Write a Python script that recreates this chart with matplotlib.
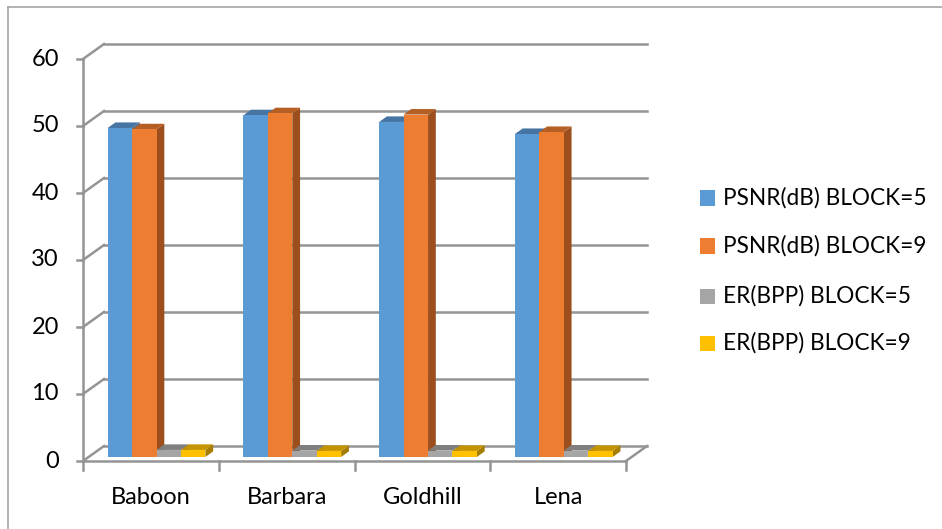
import matplotlib
matplotlib.use("Agg")
import matplotlib.pyplot as plt
from matplotlib.patches import Polygon
import numpy as np

categories = ["Baboon", "Barbara", "Goldhill", "Lena"]
series_names = ["PSNR(dB) BLOCK=5", "PSNR(dB) BLOCK=9", "ER(BPP) BLOCK=5", "ER(BPP) BLOCK=9"]
psnr_b5 = [49.1, 51.0, 50.0, 48.2]
psnr_b9 = [48.9, 51.3, 51.1, 48.5]
er_b5 = [1.05, 0.95, 0.95, 0.95]
er_b9 = [1.05, 0.9, 0.9, 0.9]
y_ticks = [0, 10, 20, 30, 40, 50, 60]

series = [psnr_b5, psnr_b9, er_b5, er_b9]
front_cols = ["#5B9BD5", "#ED7D31", "#A5A5A5", "#FFC000"]
top_cols = ["#4675A3", "#B65F25", "#7F7F7F", "#C49400"]
side_cols = ["#3F6A94", "#9C4F1D", "#6E6E6E", "#A67D00"]

plt.rcParams['font.family'] = ['Lato', 'DejaVu Sans']

W, H = 942, 529
fig = plt.figure(figsize=(W / 100, H / 100), dpi=100)
# front plane: x -0.5..3.5 -> px 83..626 ; y 0..60 -> px 461..59
x0p, x1p, y0p, y1p = 83, 626, 461, 59
ax = fig.add_axes([x0p / W, (H - y0p) / H, (x1p - x0p) / W, (y0p - y1p) / H])
ax.set_xlim(-0.5, 3.5)
ax.set_ylim(0, 60)
ax.axis("off")

# depth offsets in data units
px_x = 4.0 / (x1p - x0p)
px_y = 60.0 / (y0p - y1p)
DX = 21 * px_x
DY = 15 * px_y

grid_c = "#949494"
lw = 1.8
xl, xr = -0.5, 3.5
# back wall gridlines and left wall diagonals
for v in y_ticks:
    ax.plot([xl + DX, xr + DX], [v + DY, v + DY], color=grid_c, lw=lw, clip_on=False, zorder=1)
    ax.plot([xl, xl + DX], [v, v], color=grid_c, lw=0, clip_on=False, zorder=1)
    ax.plot([xl, xl + DX], [v, v + DY], color=grid_c, lw=lw, clip_on=False, zorder=1)
    ax.plot([xl - 6 * px_x, xl], [v, v], color=grid_c, lw=lw, clip_on=False, zorder=1)
    ax.text(xl - 24 * px_x, v, str(v), ha="right", va="center", fontsize=17, color="#000000")
# left axis vertical
ax.plot([xl, xl], [0, 60], color=grid_c, lw=lw, clip_on=False, zorder=1)
# floor
ax.plot([xl, xr], [0, 0], color=grid_c, lw=lw, clip_on=False, zorder=1)
ax.plot([xr, xr + DX], [0, DY], color=grid_c, lw=lw, clip_on=False, zorder=1)
# category ticks
for k in range(len(categories) + 1):
    xt = xl + k
    ax.plot([xt, xt], [0, -9 * px_y], color=grid_c, lw=lw, clip_on=False, zorder=1)
for i, c in enumerate(categories):
    ax.text(i, -36 * px_y, c, ha="center", va="center", fontsize=17, color="#000000")

# bars
bw = 0.18
offs = [-0.27, -0.09, 0.09, 0.27]
f0, f1 = 0.27, 0.64
z = 3
for i in range(len(categories)):
    for s in range(4):
        v = series[s][i]
        xa = i + offs[s] - bw / 2 + f0 * DX
        xb = xa + bw
        yb = f0 * DY
        yt = v + f0 * DY
        ddx = (f1 - f0) * DX
        ddy = (f1 - f0) * DY
        # side
        ax.add_patch(Polygon([[xb, yb], [xb + ddx, yb + ddy], [xb + ddx, yt + ddy], [xb, yt]],
                             closed=True, facecolor=side_cols[s], edgecolor="none", zorder=z, clip_on=False))
        # top
        ax.add_patch(Polygon([[xa, yt], [xb, yt], [xb + ddx, yt + ddy], [xa + ddx, yt + ddy]],
                             closed=True, facecolor=top_cols[s], edgecolor="none", zorder=z, clip_on=False))
        # front
        ax.bar(xa + bw / 2, v, width=bw, bottom=yb, color=front_cols[s], zorder=z + 0.5,
               clip_on=False, linewidth=0)
        z += 1

# legend (manual, in figure pixels)
leg_y = [198, 246, 296, 343]
for s in range(4):
    yc = leg_y[s]
    fig.patches.append(plt.Rectangle(((700) / W, (H - yc - 7.5) / H), 15 / W, 15 / H,
                                     transform=fig.transFigure, facecolor=front_cols[s],
                                     edgecolor="none"))
    fig.text(723 / W, (H - yc) / H, series_names[s], ha="left", va="center",
             fontsize=16.3, color="#000000")

# chart border (top and left visible)
fig.add_artist(plt.Line2D([8 / W, 8 / W], [0, (H - 7) / H], color="#A6A6A6", lw=1.2,
                          transform=fig.transFigure))
fig.add_artist(plt.Line2D([8 / W, 1], [(H - 7) / H, (H - 7) / H], color="#A6A6A6", lw=1.2,
                          transform=fig.transFigure))

fig.savefig("out.png", dpi=100)
